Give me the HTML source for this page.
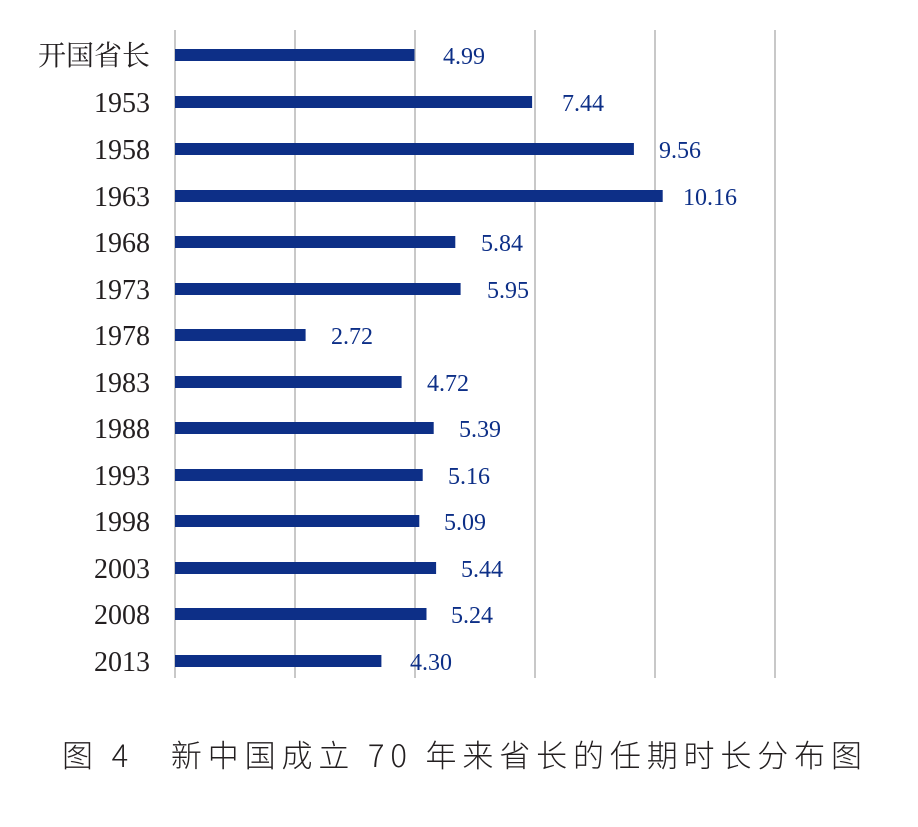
<!DOCTYPE html>
<html><head><meta charset="utf-8"><style>
body{margin:0;background:#fff;}
</style></head><body>
<svg width="918" height="822" xmlns="http://www.w3.org/2000/svg">
<g stroke="#c8c8c8" stroke-width="2">
<line x1="175" y1="30" x2="175" y2="678"/>
<line x1="295" y1="30" x2="295" y2="678"/>
<line x1="415" y1="30" x2="415" y2="678"/>
<line x1="535" y1="30" x2="535" y2="678"/>
<line x1="655" y1="30" x2="655" y2="678"/>
<line x1="775" y1="30" x2="775" y2="678"/>
</g>
<g fill="#0d2f87">
<rect x="175" y="49" width="239.5" height="12"/>
<rect x="175" y="96" width="357.1" height="12"/>
<rect x="175" y="143" width="458.9" height="12"/>
<rect x="175" y="190" width="487.7" height="12"/>
<rect x="175" y="236" width="280.3" height="12"/>
<rect x="175" y="283" width="285.6" height="12"/>
<rect x="175" y="329" width="130.6" height="12"/>
<rect x="175" y="376" width="226.6" height="12"/>
<rect x="175" y="422" width="258.7" height="12"/>
<rect x="175" y="469" width="247.7" height="12"/>
<rect x="175" y="515" width="244.3" height="12"/>
<rect x="175" y="562" width="261.1" height="12"/>
<rect x="175" y="608" width="251.5" height="12"/>
<rect x="175" y="655" width="206.4" height="12"/>
</g>
<g font-family="Liberation Serif, serif" font-size="24" fill="#0d2f87">
<text x="443" y="64">4.99</text>
<text x="562" y="111">7.44</text>
<text x="659" y="158">9.56</text>
<text x="683" y="205">10.16</text>
<text x="481" y="251">5.84</text>
<text x="487" y="298">5.95</text>
<text x="331" y="344">2.72</text>
<text x="427" y="391">4.72</text>
<text x="459" y="437">5.39</text>
<text x="448" y="484">5.16</text>
<text x="444" y="530">5.09</text>
<text x="461" y="577">5.44</text>
<text x="451" y="623">5.24</text>
<text x="410" y="670">4.30</text>
</g>
<g font-family="Liberation Serif, 'Noto Serif CJK SC', serif" font-size="28" fill="#231f20" text-anchor="end">
<text x="150" y="65">开国省长</text>
<text x="150" y="112">1953</text>
<text x="150" y="159">1958</text>
<text x="150" y="206">1963</text>
<text x="150" y="252">1968</text>
<text x="150" y="299">1973</text>
<text x="150" y="345">1978</text>
<text x="150" y="392">1983</text>
<text x="150" y="438">1988</text>
<text x="150" y="485">1993</text>
<text x="150" y="531">1998</text>
<text x="150" y="578">2003</text>
<text x="150" y="624">2008</text>
<text x="150" y="671">2013</text>
</g>
<text x="62" y="767" font-family="'Noto Sans CJK SC', sans-serif" font-weight="300" font-size="31" fill="#231f20" textLength="800" lengthAdjust="spacing">图 4　新中国成立 70 年来省长的任期时长分布图</text>
</svg>
</body></html>
